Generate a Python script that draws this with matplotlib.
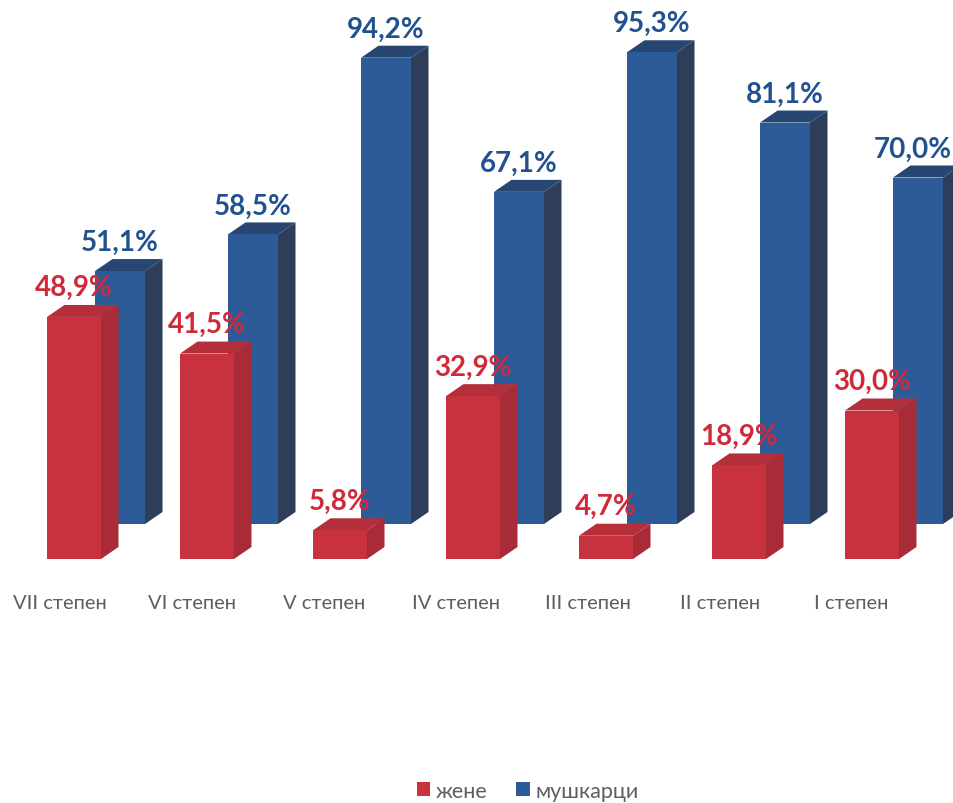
import matplotlib
matplotlib.use("Agg")
import matplotlib.pyplot as plt
from matplotlib.patches import Polygon, Patch

# Share of women / men by qualification level (percent)
categories = ["VII степен", "VI степен", "V степен", "IV степен",
              "III степен", "II степен", "I степен"]
women = [48.9, 41.5, 5.8, 32.9, 4.7, 18.9, 30.0]
men = [51.1, 58.5, 94.2, 67.1, 95.3, 81.1, 70.0]
series_names = ["жене", "мушкарци"]

FONT = ["Lato", "Open Sans", "DejaVu Sans"]

RED = {"front": "#C8323F", "side": "#A92B37", "top": "#B52F3B", "label": "#D02A3A"}
BLUE = {"front": "#2D5B97", "side": "#2E3D5A", "top": "#274672", "label": "#21528F"}
TICK_GREY = "#5E5E5E"

W, H, DPI = 954, 804, 100
fig = plt.figure(figsize=(W / DPI, H / DPI), dpi=DPI)
ax = fig.add_axes([0, 0, 1, 1])

# data-space layout of the oblique projection
px_per_cat = 133.0
px_per_pct = 4.95
ax.set_xlim(-74 / px_per_cat, (W - 74) / px_per_cat)
ax.set_ylim(-(H - 560) / px_per_pct, 560 / px_per_pct)
ax.axis("off")

depth_dx = 17.5 / px_per_cat      # side-face depth
depth_dy = 12.0 / px_per_pct
row_dx = 48.0 / px_per_cat        # back row shift (second series)
row_dy = 35.0 / px_per_pct


def draw_box(x0, base, width, value, colors, z):
    x1 = x0 + width
    top = base + value
    front = Polygon([(x0, base), (x1, base), (x1, top), (x0, top)],
                    closed=True, fc=colors["front"], ec="none", zorder=z)
    side = Polygon([(x1, base), (x1 + depth_dx, base + depth_dy),
                    (x1 + depth_dx, top + depth_dy), (x1, top)],
                   closed=True, fc=colors["side"], ec="none", zorder=z)
    roof = Polygon([(x0, top), (x0 + depth_dx, top + depth_dy),
                    (x1 + depth_dx, top + depth_dy), (x1, top)],
                   closed=True, fc=colors["top"], ec="none", zorder=z)
    for p in (side, roof, front):
        ax.add_patch(p)
    return (x0 + x1) / 2, top


def fmt(v):
    return f"{v:.1f}".replace(".", ",") + "%"


red_w = 54.0 / px_per_cat
blue_w = 50.0 / px_per_cat
value_labels = []

# back row: men
for i, v in enumerate(men):
    cx, top = draw_box(i - red_w / 2 + row_dx, row_dy, blue_w, v, BLUE, 1)
    value_labels.append(
        ax.annotate(fmt(v), (cx, top), xytext=(0, 11.5), textcoords="offset points",
                    ha="center", va="bottom", fontsize=20, fontweight="bold",
                    color=BLUE["label"], family=FONT, zorder=5))

# front row: women
for i, v in enumerate(women):
    cx, top = draw_box(i - red_w / 2, 0, red_w, v, RED, 3)
    value_labels.append(
        ax.annotate(fmt(v), (cx, top), xytext=(0, 12), textcoords="offset points",
                    ha="center", va="bottom", fontsize=20, fontweight="bold",
                    color=RED["label"], family=FONT, zorder=6))

# category labels under the floor (perspective pulls them slightly left)
for i, name in enumerate(categories):
    ax.text(i * 0.992 - 0.105, -44 / px_per_pct, name, ha="center", va="center",
            fontsize=14.5, color=TICK_GREY, family=FONT)

handles = [Patch(fc=RED["front"], ec="none"), Patch(fc=BLUE["front"], ec="none")]
fig.legend(handles, series_names, loc="center", bbox_to_anchor=(0.553, 1 - 792 / H),
           ncol=2, frameon=False, handlelength=0.62, handleheight=0.62,
           handletextpad=0.25, columnspacing=1.35,
           prop={"family": FONT, "size": 15.5}, labelcolor=TICK_GREY)

# keep value labels inside the right edge of the canvas
fig.canvas.draw()
renderer = fig.canvas.get_renderer()
for lab in value_labels:
    overflow = lab.get_window_extent(renderer).x1 - (W - 2)
    if overflow > 0:
        dx, dy = lab.xyann
        lab.xyann = (dx - overflow * 72 / DPI, dy)

fig.savefig("out.png", dpi=DPI, facecolor="white")
